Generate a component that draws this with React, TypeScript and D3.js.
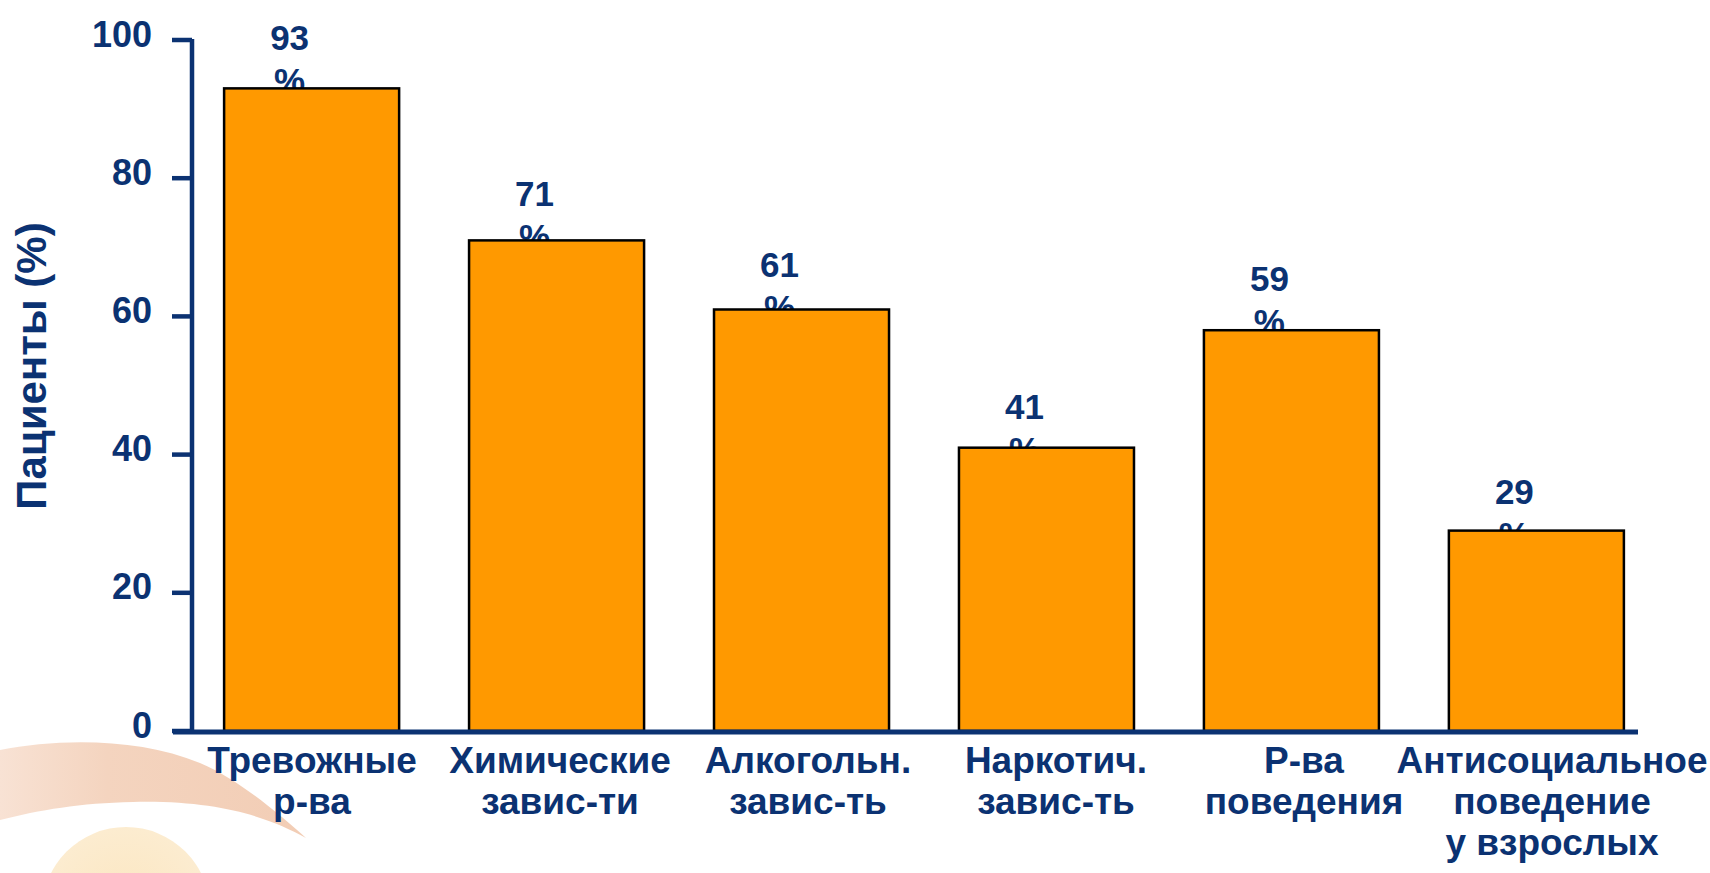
import React, { useEffect } from "react";
import * as d3 from "d3";

const categories: string[][] = [
  ["Тревожные", "р-ва"],
  ["Химические", "завис-ти"],
  ["Алкогольн.", "завис-ть"],
  ["Наркотич.", "завис-ть"],
  ["Р-ва", "поведения"],
  ["Антисоциальное", "поведение", "у взрослых"],
];
const values: number[] = [93, 71, 61, 41, 58, 29];
const valueLabels: number[] = [93, 71, 61, 41, 59, 29];
const yTicks: number[] = [0, 20, 40, 60, 80, 100];
const yTitle = "Пациенты (%)";

const W = 1710;
const H = 873;
const NAVY = "#0b3272";
const ORANGE = "#ff9900";

export default function App() {
  useEffect(() => {
    document.body.style.margin = "0";
  }, []);

  const keys = categories.map((c) => c.join(" "));
  const x = d3
    .scaleBand<string>()
    .domain(keys)
    .range([193, 1655])
    .paddingInner(0.2855)
    .paddingOuter(0.127);
  const y = d3.scaleLinear().domain([0, 100]).range([731, 40]);
  const yLabel = d3.scaleLinear().domain([0, 100]).range([710, 0]);
  const xLabel = d3.scalePoint<string>().domain(keys).range([312, 1552]);

  const fs = 35;

  return (
    <svg
      width={W}
      height={H}
      style={{ position: "fixed", left: 0, top: 0, background: "#fff" }}
      fontFamily="'Liberation Sans', Arial, sans-serif"
      fontWeight="bold"
    >
      <defs>
        <linearGradient id="peach" x1="0" y1="0" x2="1" y2="0">
          <stop offset="0" stopColor="#f8e2d4" />
          <stop offset="0.35" stopColor="#f4d4bf" />
          <stop offset="1" stopColor="#f2cdb5" />
        </linearGradient>
        <radialGradient id="yel" cx="0.5" cy="0.5" r="0.5">
          <stop offset="0" stopColor="#fbe6c0" />
          <stop offset="1" stopColor="#fcecd0" />
        </radialGradient>
      </defs>
      {/* background decoration */}
      <path
        d="M 0 750 C 60 738, 140 738, 200 763 C 240 780, 280 815, 306 838 C 270 818, 220 800, 133 802 C 80 803, 40 810, 0 820 Z"
        fill="url(#peach)"
      />
      <circle cx={126} cy={911} r={84} fill="url(#yel)" />

      {/* value labels (drawn under bars) */}
      {keys.map((k, i) => {
        const cx = (x(k) as number) + x.bandwidth() / 2 - 22;
        const by = yLabel(valueLabels[i]);
        return (
          <text key={"v" + k} x={cx} y={by} fill={NAVY} fontSize={fs} textAnchor="middle">
            <tspan x={cx}>{valueLabels[i]}</tspan>
            <tspan x={cx} dy={43}>%</tspan>
          </text>
        );
      })}

      {/* bars */}
      {keys.map((k, i) => (
        <rect
          key={"b" + k}
          x={x(k)}
          y={y(values[i])}
          width={x.bandwidth()}
          height={y(0) - y(values[i])}
          fill={ORANGE}
          stroke="#000"
          strokeWidth={2.5}
        />
      ))}

      {/* y axis */}
      <line x1={192} x2={192} y1={y(100) - 1} y2={y(0)} stroke={NAVY} strokeWidth={4.5} />
      {yTicks.map((t) => (
        <g key={"t" + t}>
          <line x1={172} x2={192} y1={y(t)} y2={y(t)} stroke={NAVY} strokeWidth={4.5} />
          <text x={152} y={y(t) - 6} dy="0.35em" textAnchor="end" fill={NAVY} fontSize={36}>
            {t}
          </text>
        </g>
      ))}
      {/* x axis */}
      <line x1={173} x2={1638} y1={y(0) + 1} y2={y(0) + 1} stroke={NAVY} strokeWidth={5} />

      {/* category labels */}
      {keys.map((k, i) => (
        <text key={"c" + k} textAnchor="middle" fill={NAVY} fontSize={37}>
          {categories[i].map((line, j) => (
            <tspan key={j} x={xLabel(k)} y={773 + j * 41}>
              {line}
            </tspan>
          ))}
        </text>
      ))}

      {/* y title */}
      <text
        transform={`translate(46,366) rotate(-90)`}
        textAnchor="middle"
        fill={NAVY}
        fontSize={42}
      >
        {yTitle}
      </text>
    </svg>
  );
}
